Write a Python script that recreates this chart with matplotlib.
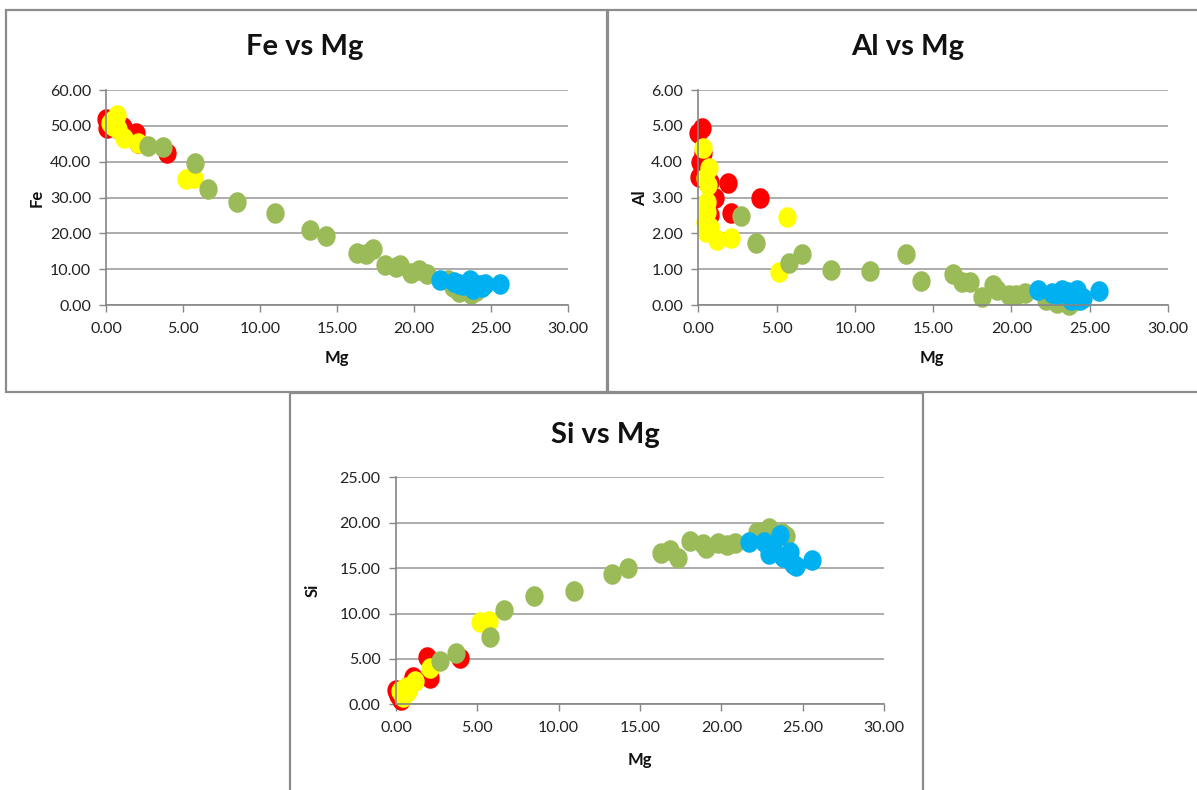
import matplotlib
matplotlib.use("Agg")
import matplotlib.pyplot as plt
from matplotlib.path import Path
from matplotlib.patches import Rectangle
import numpy as np

# ---------------- data (Mg, Fe, Al, Si per sample group) ----------------
red_mg = [0.00, 0.20, 0.30, 0.10, 0.05, 0.74, 1.06, 1.91, 2.06, 3.93, 0.74]
red_fe = [52.0, 51.5, 50.0, 50.5, 49.5, 49.0, 49.8, 47.9, 45.1, 42.3, 50.5]
red_al = [4.79, 4.93, 4.23, 4.00, 3.58, 3.44, 2.98, 3.40, 2.58, 2.98, 2.50]
red_si = [1.60, 1.20, 0.50, 1.00, 1.40, 2.00, 3.00, 5.25, 2.86, 5.07, 1.80]

yel_mg = [0.27, 0.70, 0.42, 0.63, 0.57, 0.57, 0.42, 0.74, 0.49, 1.17, 2.08, 5.17, 5.69]
yel_fe = [50.7, 53.0, 51.5, 50.2, 52.0, 51.0, 50.0, 49.0, 50.5, 46.5, 45.1, 35.2, 35.4]
yel_al = [4.37, 3.81, 3.54, 3.35, 2.88, 2.60, 2.32, 2.18, 2.05, 1.81, 1.86, 0.93, 2.46]
yel_si = [1.50, 1.94, 1.00, 1.30, 1.80, 1.20, 0.80, 1.50, 1.10, 2.57, 3.96, 9.10, 9.20]

grn_mg = [2.69, 3.71, 5.79, 6.64, 8.50, 10.95, 13.25, 14.25, 16.29, 16.85, 17.33,
          18.09, 18.85, 19.06, 19.82, 20.32, 20.86, 22.20, 22.50, 22.90, 23.70, 24.00]
grn_fe = [44.5, 44.2, 39.7, 32.4, 28.7, 25.8, 20.9, 19.3, 14.4, 14.1, 15.5,
          11.2, 10.7, 11.2, 9.0, 9.8, 8.6, 7.0, 5.0, 3.7, 3.2, 4.0]
grn_al = [2.48, 1.72, 1.18, 1.42, 0.99, 0.95, 1.42, 0.67, 0.86, 0.65, 0.65,
          0.23, 0.56, 0.42, 0.28, 0.28, 0.34, 0.14, 0.25, 0.05, 0.00, 0.10]
grn_si = [4.80, 5.60, 7.40, 10.40, 11.90, 12.50, 14.35, 15.05, 16.70, 17.00, 16.10,
          18.00, 17.67, 17.20, 17.80, 17.56, 17.80, 19.00, 18.80, 19.40, 18.85, 18.50]

blu_mg = [21.70, 22.60, 22.90, 23.20, 23.60, 23.80, 24.20, 24.40, 24.60, 25.60]
blu_fe = [7.0, 6.5, 6.0, 5.5, 7.0, 4.6, 5.6, 5.0, 6.0, 5.9]
blu_al = [0.42, 0.33, 0.30, 0.42, 0.35, 0.15, 0.42, 0.14, 0.20, 0.40]
blu_si = [17.90, 17.90, 16.50, 17.20, 18.60, 16.20, 16.80, 15.50, 15.20, 15.90]

x_ticks = [0, 5, 10, 15, 20, 25, 30]
fe_ticks = [0, 10, 20, 30, 40, 50, 60]
al_ticks = [0, 1, 2, 3, 4, 5, 6]
si_ticks = [0, 5, 10, 15, 20, 25]

COLORS = {"red": "#FF0000", "yel": "#FFFF00", "grn": "#9BBB59", "blu": "#00B0F0"}

# ---------------- figure ----------------
W, H = 1197, 790
fig = plt.figure(figsize=(W / 100, H / 100), dpi=100)
fig.patch.set_facecolor("white")
FONT = "Lato"

def fx(px):
    return px / W

def fy(py):
    return 1 - py / H

# panel frames
for (x0, y0, x1, y1) in [(6, 10, 607, 392), (608, 10, 1203, 392), (290, 393, 923, 800)]:
    fig.patches.append(Rectangle((fx(x0), fy(y1)), fx(x1) - fx(x0), fy(y0) - fy(y1),
                                 transform=fig.transFigure, fill=False,
                                 edgecolor="#8C8C8C", linewidth=1.6, zorder=0))

# ellipse marker (slightly taller than wide)
t = np.linspace(0, 2 * np.pi, 64)
ell = Path(np.column_stack([0.89 * np.cos(t), np.sin(t)]), closed=True)

def make_axes(px_x0, px_x1, px_y0, px_y1, xmax, ymax, yticks, ylab, title, tpos, xlpos, ylpos,
              groups, ymajor_fmt="{:.2f}"):
    ax = fig.add_axes([fx(px_x0), fy(px_y0), fx(px_x1) - fx(px_x0), fy(px_y1) - fy(px_y0)])
    ax.set_xlim(0, xmax)
    ax.set_ylim(0, ymax)
    ax.set_xticks(x_ticks)
    ax.set_yticks(yticks)
    ax.set_xticklabels([f"{v:.2f}" for v in x_ticks], fontfamily=FONT, fontsize=11.5)
    ax.set_yticklabels([ymajor_fmt.format(v) for v in yticks], fontfamily=FONT, fontsize=11.5)
    ax.tick_params(axis="both", colors="#868686", labelcolor="#222222", length=5, width=1)
    ax.tick_params(axis="x", pad=7)
    ax.tick_params(axis="y", pad=6)
    for s in ["top", "right"]:
        ax.spines[s].set_visible(False)
    for s in ["left", "bottom"]:
        ax.spines[s].set_color("#868686")
        ax.spines[s].set_linewidth(1.2)
    ax.yaxis.grid(True, color="#9E9E9E", linewidth=1.2)
    ax.set_axisbelow(True)
    ax.patch.set_alpha(0)
    for xs, ys, c in groups:
        ax.plot(xs, ys, linestyle="none", marker=ell, markersize=14.8,
                markerfacecolor=COLORS[c], markeredgecolor="none", clip_on=False)
    fig.text(fx(tpos[0]), fy(tpos[1]), title, ha="center", va="center",
             fontfamily=FONT, fontweight="bold", fontsize=21, color="#111111")
    fig.text(fx(xlpos[0]), fy(xlpos[1]), "Mg", ha="center", va="center",
             fontfamily=FONT, fontweight="bold", fontsize=12, color="#111111")
    fig.text(fx(ylpos[0]), fy(ylpos[1]), ylab, ha="center", va="center", rotation=90,
             fontfamily=FONT, fontweight="bold", fontsize=12, color="#111111")
    return ax

make_axes(106.3, 568.0, 305.0, 90.0, 30, 60, fe_ticks, "Fe", "Fe vs Mg",
          (305, 47), (337, 358), (37, 198),
          [(red_mg, red_fe, "red"), (yel_mg, yel_fe, "yel"),
           (grn_mg, grn_fe, "grn"), (blu_mg, blu_fe, "blu")])

make_axes(698.4, 1168.0, 305.0, 90.0, 30, 6, al_ticks, "Al", "Al vs Mg",
          (908, 47), (932, 358), (640, 198),
          [(red_mg, red_al, "red"), (yel_mg, yel_al, "yel"),
           (grn_mg, grn_al, "grn"), (blu_mg, blu_al, "blu")])

make_axes(396.0, 884.0, 704.3, 477.3, 30, 25, si_ticks, "Si", "Si vs Mg",
          (605, 435), (640, 760), (313, 590),
          [(red_mg, red_si, "red"), (yel_mg, yel_si, "yel"),
           (grn_mg, grn_si, "grn"), (blu_mg, blu_si, "blu")])

fig.savefig("out.png", dpi=100)
